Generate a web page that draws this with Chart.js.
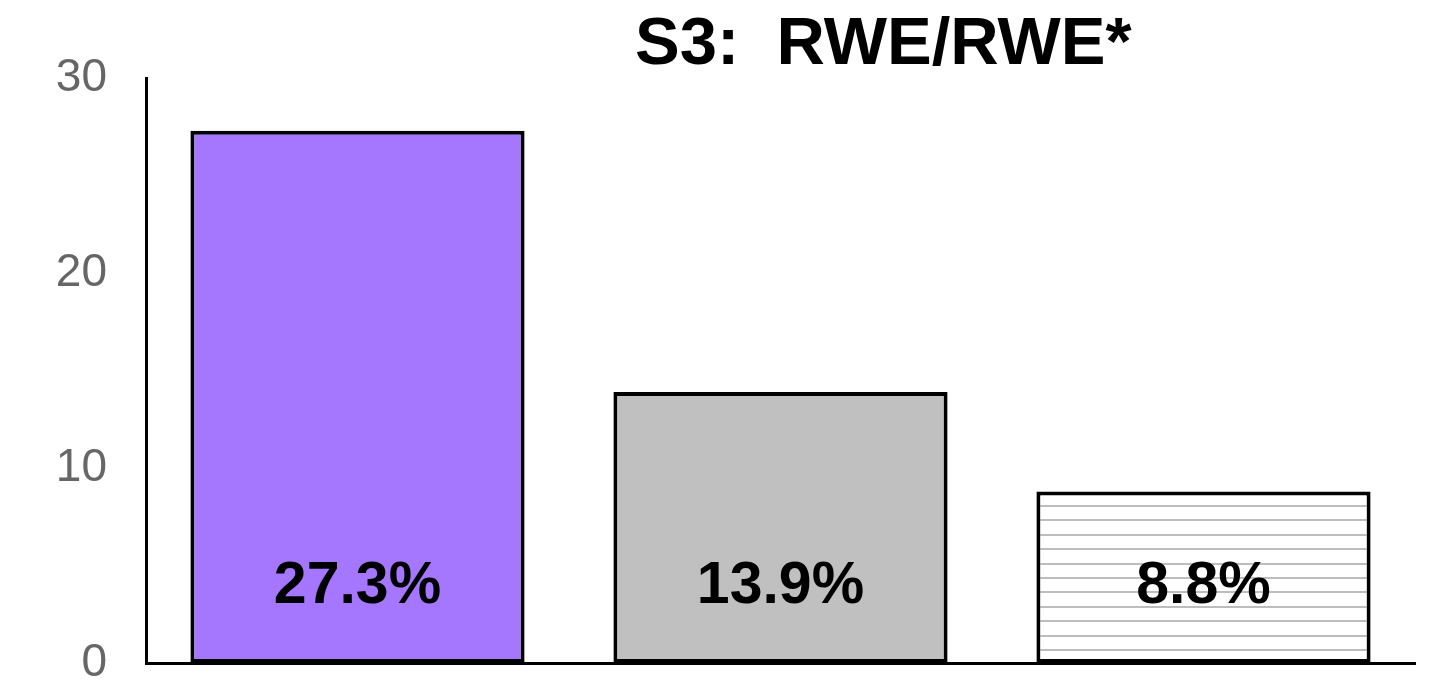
<!DOCTYPE html>
<html>
<head>
<meta charset="utf-8">
<script src="https://cdn.jsdelivr.net/npm/chart.js@4"></script>
<style>
  html, body { margin: 0; padding: 0; background: #ffffff; }
  #wrap { width: 1441px; height: 685px; position: relative; }
</style>
</head>
<body>
<div id="wrap"><canvas id="c" width="1441" height="685"></canvas></div>
<script>
const chartTitle = 'S3:  RWE/RWE*';
const categories = ['Group 1', 'Group 2', 'Group 3'];
const values = [27.3, 13.9, 8.8];
const valueLabels = ['27.3%', '13.9%', '8.8%'];
const yTicks = [0, 10, 20, 30];

function hatchPattern() {
  const p = document.createElement('canvas');
  p.width = 8; p.height = 72;
  const g = p.getContext('2d');
  g.fillStyle = '#ffffff';
  g.fillRect(0, 0, 8, 72);
  g.fillStyle = '#bdbdbd';
  [2, 16, 31, 45, 60].forEach(y => g.fillRect(0, y - 1, 8, 2));
  return document.getElementById('c').getContext('2d').createPattern(p, 'repeat');
}

const fills = ['#a577ff', '#c0c0c0', hatchPattern()];

const titlePlugin = {
  id: 'titleText',
  afterDraw(chart) {
    const { ctx, chartArea } = chart;
    ctx.save();
    ctx.font = 'bold 67px "Liberation Sans", Arial, sans-serif';
    ctx.fillStyle = '#000000';
    ctx.textAlign = 'center';
    ctx.textBaseline = 'alphabetic';
    const x = chartArea.left + (chartArea.right - chartArea.left) * 0.581;
    ctx.fillText(chartTitle, x, chartArea.top - 14);
    ctx.restore();
  }
};

const valueLabelPlugin = {
  id: 'valueLabels',
  afterDatasetsDraw(chart) {
    const { ctx } = chart;
    const meta = chart.getDatasetMeta(0);
    const yScale = chart.scales.y;
    const y = yScale.getPixelForValue(3.9);
    ctx.save();
    ctx.font = 'bold 59px "Liberation Sans", Arial, sans-serif';
    ctx.fillStyle = '#000000';
    ctx.textAlign = 'center';
    ctx.textBaseline = 'middle';
    meta.data.forEach((bar, i) => {
      ctx.fillText(valueLabels[i], bar.x, y);
    });
    ctx.restore();
  }
};

new Chart(document.getElementById('c'), {
  type: 'bar',
  data: {
    labels: categories,
    datasets: [{
      data: values,
      backgroundColor: fills,
      borderColor: '#000000',
      borderWidth: 4,
      borderSkipped: false,
      barPercentage: 0.79,
      categoryPercentage: 1.0
    }]
  },
  options: {
    responsive: false,
    animation: false,
    events: [],
    layout: { padding: { top: 78, left: 0, right: 26, bottom: 22 } },
    plugins: {
      legend: { display: false },
      title: { display: false },
      tooltip: { enabled: false }
    },
    scales: {
      x: {
        grid: { display: false, drawTicks: false },
        ticks: { display: false },
        border: { display: true, color: '#000000', width: 3 }
      },
      y: {
        min: yTicks[0],
        max: yTicks[yTicks.length - 1],
        afterBuildTicks(scale) { scale.ticks = yTicks.map(v => ({ value: v })); },
        afterFit(scale) {
          scale.width = 146;
          scale.paddingTop = 0;
          scale.paddingBottom = 0;
        },
        grid: { display: false, drawTicks: false },
        border: { display: true, color: '#000000', width: 3 },
        ticks: {
          padding: 39,
          color: '#666666',
          font: { family: '"Liberation Sans", Arial, sans-serif', size: 46 }
        }
      }
    }
  },
  plugins: [titlePlugin, valueLabelPlugin]
});
</script>
</body>
</html>
